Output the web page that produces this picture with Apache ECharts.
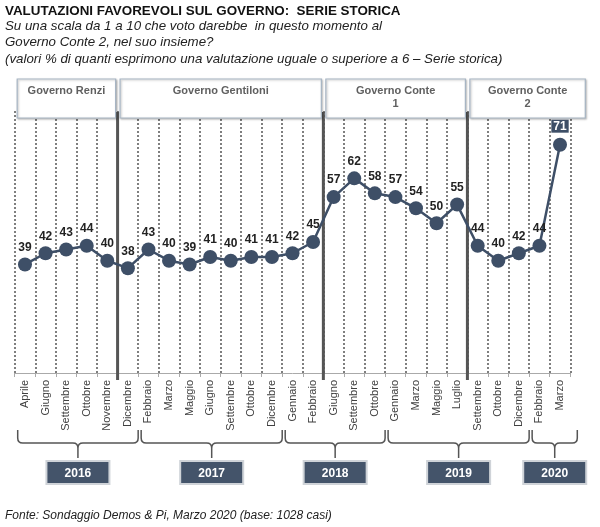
<!DOCTYPE html>
<html><head><meta charset="utf-8">
<script src="https://cdn.jsdelivr.net/npm/echarts/dist/echarts.min.js"></script>
<style>html,body{margin:0;padding:0;background:#fff}#c{width:600px;height:527px}</style>
</head><body><div id="c"></div>
<script>
const months = ['Aprile','Giugno','Settembre','Ottobre','Novembre','Dicembre','Febbraio','Marzo','Maggio','Giugno','Settembre','Ottobre','Dicembre','Gennaio','Febbraio','Giugno','Settembre','Ottobre','Gennaio','Marzo','Maggio','Luglio','Settembre','Ottobre','Dicembre','Febbraio','Marzo'];
const values = [39,42,43,44,40,38,43,40,39,41,40,41,41,42,45,57,62,58,57,54,50,55,44,40,42,44,71];
const governments = ['Governo Renzi','Governo Gentiloni','Governo Conte\n1','Governo Conte\n2'];
const govStartIndex = [0,5,15,22];
const govEndIndex = [5,15,22,27];
const years = ['2016','2017','2018','2019','2020'];
const yearStartIndex = [0,6,13,18,25];
const yearEndIndex = [6,13,18,25,27];

const FF = '"Liberation Sans", Arial, sans-serif';
const DARK = '#3e4f67';

const chart = echarts.init(document.getElementById('c'));

const lineData = values.map((v, i) => i === values.length - 1 ? {
  value: v,
  label: { backgroundColor: DARK, color: '#fff', padding: [1, 2, 0, 2], distance: 5 }
} : v);

const subStyle = { fontSize: 13.3, fontWeight: 'normal', fontStyle: 'italic', color: '#222', fontFamily: FF };

const option = {
  animation: false,
  backgroundColor: '#fff',
  title: [
    { text: 'VALUTAZIONI FAVOREVOLI SUL GOVERNO:  SERIE STORICA', left: 5, top: 5, padding: 0,
      textStyle: { fontSize: 13.4, fontWeight: 'bold', color: '#111', fontFamily: FF } },
    { text: 'Su una scala da 1 a 10 che voto darebbe  in questo momento al', left: 5, top: 20, padding: 0, textStyle: subStyle },
    { text: 'Governo Conte 2, nel suo insieme?', left: 5, top: 36, padding: 0, textStyle: subStyle },
    { text: '(valori % di quanti esprimono una valutazione uguale o superiore a 6 \u2013 Serie storica)', left: 5, top: 53, padding: 0, textStyle: subStyle },
    { text: 'Fonte: Sondaggio Demos & Pi, Marzo 2020 (base: 1028 casi)', left: 5, top: 510, padding: 0,
      textStyle: { fontSize: 12, fontWeight: 'normal', fontStyle: 'italic', color: '#222', fontFamily: FF } }
  ],
  grid: { left: 14.7, right: 29.7, top: 111, bottom: 154 },
  xAxis: [
    {
      type: 'category', data: months, boundaryGap: true,
      axisLine: { lineStyle: { color: '#aaa', width: 1 } },
      axisTick: { show: true, length: 4, interval: 0, lineStyle: { color: '#aaa' } },
      axisLabel: { rotate: 90, interval: 0, fontSize: 11, color: '#404040', margin: 7, fontFamily: FF },
      splitLine: { show: true, interval: 0, lineStyle: { color: '#555', type: [2, 2], width: 1.5 } }
    },
    { type: 'value', min: 0, max: 27, show: false }
  ],
  yAxis: { type: 'value', min: 10, max: 80, show: false },
  series: [
    {
      type: 'custom', xAxisIndex: 1, yAxisIndex: 0, clip: false, z: 3,
      data: govStartIndex.slice(1).map(v => [v, 10]),
      renderItem(params, api) {
        const top = api.coord([api.value(0), 80]);
        const bot = api.coord([api.value(0), 10]);
        return { type: 'line', shape: { x1: top[0], y1: top[1] + 1, x2: top[0], y2: bot[1] + 7 },
          style: { stroke: '#555', lineWidth: 3 } };
      }
    },
    {
      type: 'custom', xAxisIndex: 1, yAxisIndex: 0, clip: false, z: 4,
      data: governments.map((g, i) => [govStartIndex[i], govEndIndex[i], i]),
      renderItem(params, api) {
        const a = api.coord([api.value(0), 80]);
        const b = api.coord([api.value(1), 80]);
        const isLast = params.dataIndex === governments.length - 1;
        const x1 = a[0] + 2.5, x2 = b[0] - 2 + (isLast ? 17 : 0);
        const y1 = a[1] - 32, y2 = a[1] + 7;
        return { type: 'group', children: [
          { type: 'rect', shape: { x: x1, y: y1, width: x2 - x1, height: y2 - y1 },
            style: { fill: '#fff', stroke: '#a7b5c4', lineWidth: 1.2, shadowBlur: 2, shadowColor: 'rgba(0,0,0,0.25)', shadowOffsetX: 1, shadowOffsetY: 1 } },
          { type: 'text', style: { text: governments[api.value(2)], x: (x1 + x2) / 2, y: y1 + 5, align: 'center', verticalAlign: 'top',
            font: 'bold 11px ' + FF, fill: '#606060', lineHeight: 13 } }
        ] };
      }
    },
    {
      type: 'custom', xAxisIndex: 1, yAxisIndex: 0, clip: false, z: 4,
      data: years.map((y, i) => [yearStartIndex[i], yearEndIndex[i], i]),
      renderItem(params, api) {
        const a = api.coord([api.value(0), 10]);
        const b = api.coord([api.value(1), 10]);
        const isLast = params.dataIndex === years.length - 1;
        const x1 = a[0] + 3, x2 = b[0] + (isLast ? 7 : 0);
        const cx = (x1 + x2) / 2, base = a[1];
        const yt = base + 57, yh = base + 70, yb = base + 85, r = 5;
        const p = `M${x1},${yt} L${x1},${yh - r} Q${x1},${yh} ${x1 + r},${yh} L${cx - r},${yh} Q${cx},${yh} ${cx},${yh + r} L${cx},${yb} M${cx},${yh + r} Q${cx},${yh} ${cx + r},${yh} L${x2 - r},${yh} Q${x2},${yh} ${x2},${yh - r} L${x2},${yt}`;
        const bw = 63, bh = 23, by = base + 88;
        return { type: 'group', children: [
          { type: 'path', shape: { pathData: p }, style: { stroke: '#555', lineWidth: 1.5, fill: null } },
          { type: 'rect', shape: { x: cx - bw / 2, y: by, width: bw, height: bh },
            style: { fill: '#44546a', stroke: '#cfd3d8', lineWidth: 2 } },
          { type: 'text', style: { text: years[api.value(2)], x: cx, y: by + bh / 2 + 1, align: 'center', verticalAlign: 'middle',
            font: 'bold 12px ' + FF, fill: '#fff' } }
        ] };
      }
    },
    {
      type: 'line', data: lineData, xAxisIndex: 0, yAxisIndex: 0, z: 5,
      symbol: 'circle', symbolSize: 14,
      lineStyle: { color: DARK, width: 2.5 },
      itemStyle: { color: DARK },
      label: { show: true, position: 'top', distance: 4, fontSize: 12, fontWeight: 'bold', color: '#222', fontFamily: FF }
    }
  ]
};
chart.setOption(option);
</script>
</body></html>
